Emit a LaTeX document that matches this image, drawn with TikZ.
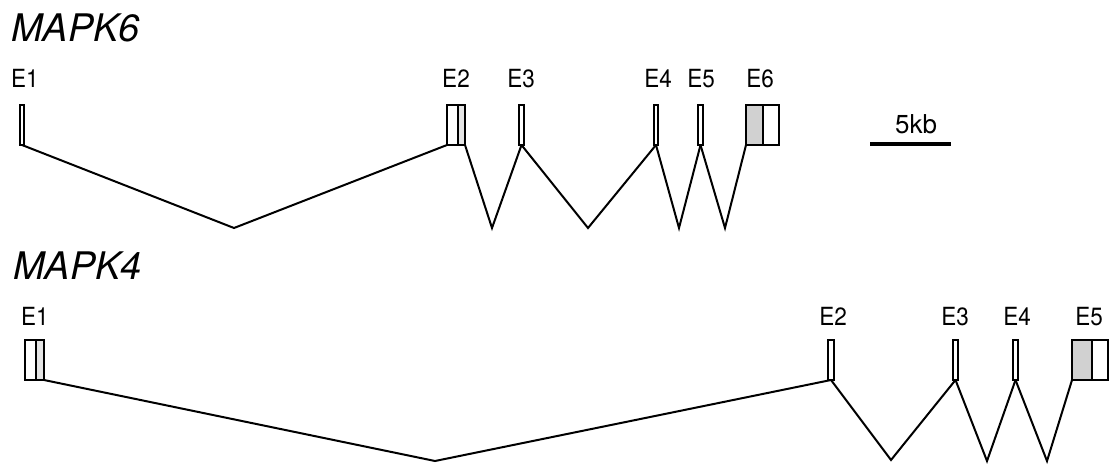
\documentclass[tikz,border=0pt]{standalone}
\usepackage{fontspec}
\setmainfont{TeX Gyre Heros}
\newfontfamily\lblfont[FakeStretch=0.9]{TeX Gyre Heros}
\usetikzlibrary{calc}
\definecolor{utrgray}{gray}{0.82}
\definecolor{utrlight}{gray}{0.9}
\begin{document}
\begin{tikzpicture}[x=1pt,y=-1pt,
  genetitle/.style={anchor=base west, inner sep=0pt, font=\fontsize{38}{40}\selectfont\itshape},
  exlabel/.style={anchor=base, inner sep=0pt, font=\lblfont\fontsize{25}{27}\selectfont},
  exon/.style={draw, line width=1.6pt, fill=white, inner sep=0pt, outer sep=0pt,
               anchor=north west, minimum height=40pt},
  % exon whose left part (width #1) is untranslated and shaded
  shadelead/.style={path picture={
      \fill[utrgray] (path picture bounding box.north west) rectangle
                     ([xshift=#1]path picture bounding box.south west);
      \draw[line width=1.6pt] ([xshift=#1]path picture bounding box.north west) --
                              ([xshift=#1]path picture bounding box.south west);}},
  % exon whose part right of #1 is shaded
  shaderear/.style={path picture={
      \fill[utrlight] ([xshift=#1]path picture bounding box.north west) rectangle
                      (path picture bounding box.south east);
      \draw[line width=1.6pt] ([xshift=#1]path picture bounding box.north west) --
                              ([xshift=#1]path picture bounding box.south west);}},
  intron/.style={line width=2pt, line join=miter},
  scalebar/.style={line width=4pt}
]
\useasboundingbox (0,0) rectangle (1115,468);

% ---------------- MAPK6 ----------------
\node[genetitle] (t6) at (11,42) {MAPK6};

\node[exon, minimum width=4pt]  (a1) at (20,105) {};
\node[exon, minimum width=18pt, shaderear=11pt] (a2) at (447,105) {};
\node[exon, minimum width=5pt]  (a3) at (519,105) {};
\node[exon, minimum width=4pt]  (a4) at (654,105) {};
\node[exon, minimum width=5pt]  (a5) at (698,105) {};
\node[exon, minimum width=33pt, shadelead=17pt] (a6) at (746,105) {};

\node[exlabel] (la1) at (25,88)  {E1};
\node[exlabel] (la2) at (456,88) {E2};
\node[exlabel] (la3) at (521,88) {E3};
\node[exlabel] (la4) at (658,88) {E4};
\node[exlabel] (la5) at (701,88) {E5};
\node[exlabel] (la6) at (760,88) {E6};

\coordinate (va1) at (234,228);
\coordinate (va2) at (492,228);
\coordinate (va3) at (588,228);
\coordinate (va4) at (679,228);
\coordinate (va5) at (725,228);

\draw[intron] (a1.south) -- (va1) -- (a2.south west);
\draw[intron] (a2.south east) -- (va2) -- (a3.south);
\draw[intron] (a3.south) -- (va3) -- (a4.south);
\draw[intron] (a4.south) -- (va4) -- (a5.south);
\draw[intron] (a5.south) -- (va5) -- (a6.south west);

% scale bar
\coordinate (sbl) at (870,144);
\coordinate (sbr) at (951,144);
\draw[scalebar] (sbl) -- (sbr);
\node[anchor=base, inner sep=0pt, font=\fontsize{26}{28}\selectfont] (sbt) at (916,133) {5kb};

% ---------------- MAPK4 ----------------
\node[genetitle] (t4) at (13,279) {MAPK4};

\node[exon, minimum width=19pt, shaderear=11pt] (b1) at (25,340) {};
\node[exon, minimum width=6pt]  (b2) at (828,340) {};
\node[exon, minimum width=5pt]  (b3) at (953,340) {};
\node[exon, minimum width=5pt]  (b4) at (1013,340) {};
\node[exon, minimum width=36pt, shadelead=20pt] (b5) at (1072,340) {};

\node[exlabel] (lb1) at (35,325)   {E1};
\node[exlabel] (lb2) at (833,325)  {E2};
\node[exlabel] (lb3) at (955,325)  {E3};
\node[exlabel] (lb4) at (1017,325) {E4};
\node[exlabel] (lb5) at (1089,325) {E5};

\coordinate (vb1) at (435,461);
\coordinate (vb2) at (891,460);
\coordinate (vb3) at (987,461);
\coordinate (vb4) at (1047,461);

\draw[intron] (b1.south east) -- (vb1) -- (b2.south);
\draw[intron] (b2.south) -- (vb2) -- (b3.south);
\draw[intron] (b3.south) -- (vb3) -- (b4.south);
\draw[intron] (b4.south) -- (vb4) -- (b5.south west);
\end{tikzpicture}
\end{document}
